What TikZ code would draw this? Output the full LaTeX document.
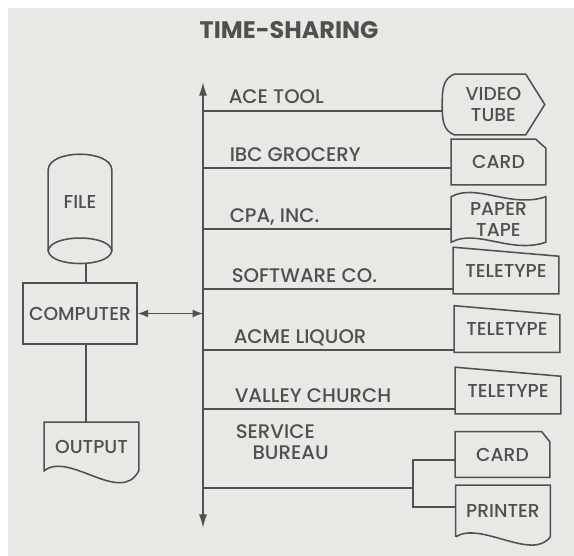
\documentclass[tikz,border=0pt]{standalone}
\usepackage{fontspec}
\setmainfont{Poppins}[UprightFont=* Medium, BoldFont=* Bold]
\usetikzlibrary{arrows.meta,calc}
\definecolor{paper}{HTML}{E8E9E5}
\definecolor{ink}{HTML}{505050}
\tikzset{
  unit/.style={font=\fontsize{13.3}{14.5}\selectfont, inner sep=0pt, align=center},
  client/.style={font=\fontsize{14}{15}\selectfont, inner sep=0pt, anchor=base west, align=left},
  card/.style={unit, minimum width=2.325cm, minimum height=1.1cm},
  tele/.style={unit, minimum width=2.6cm, minimum height=1.125cm},
}
\begin{document}
\begin{tikzpicture}[x=0.025cm, y=-0.025cm, color=ink, line width=1.1pt,
    >={Latex[length=3.4mm,width=2mm]}]
  \fill[white] (0,0) rectangle (574,556);
  \fill[paper] (8,8) rectangle (574,556);
  \useasboundingbox (0,0) rectangle (574,556);

  \node[font=\fontsize{17}{20}\selectfont\bfseries] (title) at (289,30) {TIME-SHARING};

  % computer side
  \node[unit, minimum width=1.55cm, minimum height=2.7cm] (file) at (80,209) {\raisebox{0.35cm}{FILE}};
  \draw ($(file.north west)+(0,15)$) .. controls ($(file.north west)+(2,-5)$) and ($(file.north east)+(-2,-5)$) .. ($(file.north east)+(0,15)$)
    -- ($(file.south east)+(0,-13)$) .. controls ($(file.south east)+(-2,4)$) and ($(file.south west)+(2,4)$) .. ($(file.south west)+(0,-13)$) -- cycle;
  \draw ($(file.south west)+(0,-13)$) .. controls ($(file.south west)+(2,-30)$) and ($(file.south east)+(-2,-30)$) .. ($(file.south east)+(0,-13)$);
  \node[unit, draw, minimum width=2.85cm, minimum height=1.525cm] (comp) at (80,313.5) {COMPUTER};
  \node[unit, minimum width=2.325cm, minimum height=1.175cm] (out) at (91.5,446.5) {OUTPUT};
  \draw (out.south east) -- (out.north east) -- (out.north west) -- (out.south west)
    .. controls +(25,-20) and +(-18,35) .. (out.south east);
  \coordinate (vl) at (86,0);
  \draw (vl |- file.south) -- (vl |- comp.north);
  \draw (vl |- comp.south) -- (vl |- out.north);

  % the line to all users
  \coordinate (top) at (203,82);
  \coordinate (bot) at (203,528);
  \draw[<->] (top) -- (bot);
  \draw[{Latex[length=2.6mm,width=2mm]}-{Latex[length=2.6mm,width=2mm]}] (comp.east) -- (comp.east -| top);

  \node[client] (ace) at (228,104) {ACE TOOL};
  \node[client] (ibc) at (229,162) {IBC GROCERY};
  \node[client] (cpa) at (229,223) {CPA, INC.};
  \node[client] (soft) at (231,283) {SOFTWARE CO.};
  \node[client] (acme) at (233,344) {ACME LIQUOR};
  \node[client] (valley) at (234,403) {VALLEY CHURCH};
  \node[client] (svc) at (235,460) {SERVICE\\\hspace*{0.42cm}BUREAU};

  % terminals
  \node[unit, minimum width=2.525cm, minimum height=1.475cm] (tube) at (493.5,104.5) {VIDEO\\TUBE};
  \draw ($(tube.north west)+(12,0)$) -- ($(tube.north east)+(-19,0)$) -- (tube.east) -- ($(tube.south east)+(-19,0)$)
    -- ($(tube.south west)+(12,0)$) to[out=160,in=-90] (tube.west) to[out=90,in=200] ($(tube.north west)+(12,0)$) -- cycle;
  \node[card] (card1) at (498.5,162) {CARD};
  \draw (card1.north west) -- ($(card1.north east)+(-10,0)$) -- ($(card1.north east)+(0,9)$) -- (card1.south east) -- (card1.south west) -- cycle;
  \node[card] (tape) at (498.5,219.5) {PAPER\\TAPE};
  \draw (tape.north west) .. controls +(25,-14) and +(-35,12) .. (tape.north east) -- (tape.south east)
    .. controls +(-35,12) and +(25,-14) .. (tape.south west) -- cycle;
  \node[tele] (tty1) at (506,270.5) {TELETYPE};
  \draw (tty1.north west) -- ($(tty1.north east)+(0,9)$) -- (tty1.south east) -- (tty1.south west) -- cycle;
  \node[tele] (tty2) at (507,329) {TELETYPE};
  \draw (tty2.north west) -- ($(tty2.north east)+(0,9)$) -- (tty2.south east) -- (tty2.south west) -- cycle;
  \node[tele] (tty3) at (508,390.5) {TELETYPE};
  \draw (tty3.north west) -- ($(tty3.north east)+(0,9)$) -- (tty3.south east) -- (tty3.south west) -- cycle;
  \node[card] (card2) at (502.5,454.5) {CARD};
  \draw (card2.north west) -- ($(card2.north east)+(-8,0)$) -- ($(card2.north east)+(0,10)$) -- (card2.south east) -- (card2.south west) -- cycle;
  \node[card, minimum height=1.25cm] (prn) at (503,511) {PRINTER};
  \draw (prn.south west) -- (prn.north west) -- (prn.north east) -- (prn.south east)
    .. controls +(-18,25) and +(25,-16) .. (prn.south west);

  % links
  \coordinate (r1) at (203,111);
  \coordinate (r2) at (203,168);
  \coordinate (r3) at (203,229);
  \coordinate (r4) at (203,289);
  \coordinate (r5) at (203,350);
  \coordinate (r6) at (203,409);
  \coordinate (r7) at (203,488);
  \draw (r1) -- (r1 -| tube.west);
  \draw (r2) -- (r2 -| card1.west);
  \draw (r3) -- (r3 -| tape.west);
  \draw (r4) -- (r4 -| tty1.west);
  \draw (r5) -- (r5 -| tty2.west);
  \draw (r6) -- (r6 -| tty3.west);
  \coordinate (fork) at (413,488);
  \coordinate (fa) at (413,460);
  \coordinate (fb) at (413,507);
  \draw (r7) -- (fork);
  \draw (fa -| card2.west) -- (fa) -- (fb) -- (fb -| prn.west);
\end{tikzpicture}
\end{document}
